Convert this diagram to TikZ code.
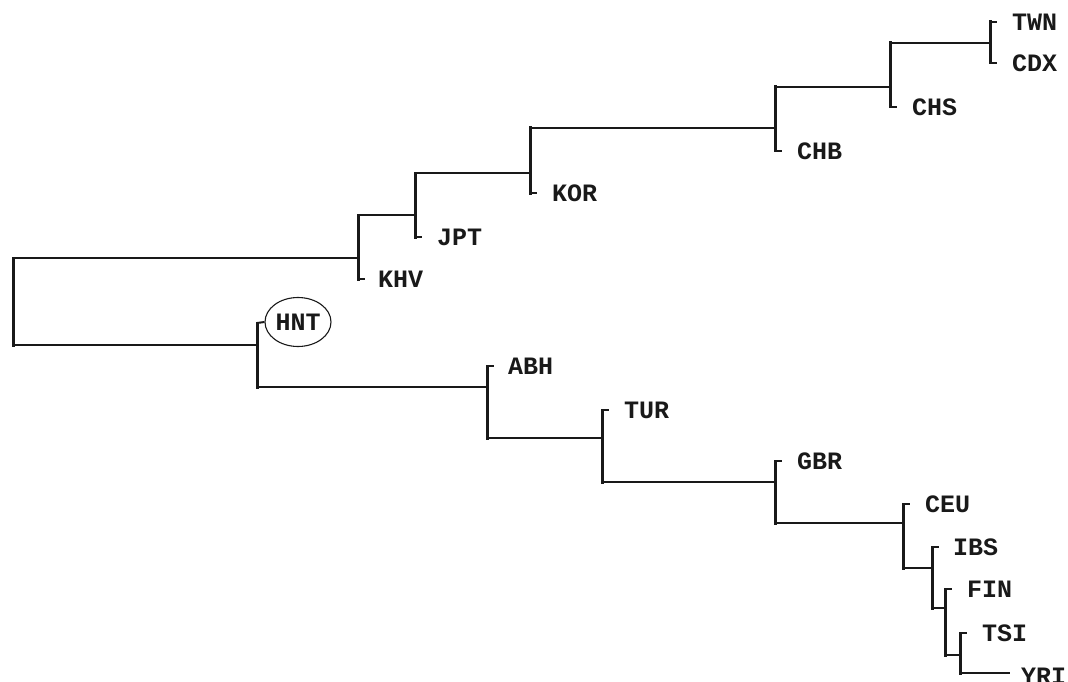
\documentclass[tikz,border=0pt]{standalone}
\usepackage{fontspec}
\setmonofont{Liberation Mono}
\usetikzlibrary{calc,shapes.geometric}
\begin{document}
\begin{tikzpicture}[x=1pt,y=-1pt,
  hline/.style={line width=2pt, draw=black!90},
  vline/.style={line width=3pt, draw=black!90, line cap=rect},
  leaf/.style={anchor=west, inner sep=0pt, text=black!90, font=\ttfamily\bfseries\fontsize{25}{25}\selectfont}]
\useasboundingbox (0,0) rectangle (1068,682);
% ---------- junction coordinates ----------
\coordinate (R1) at (13,258);  \coordinate (R2) at (13,345);
\coordinate (A0) at (358,258); \coordinate (A1) at (358,215); \coordinate (A2) at (358,279);
\coordinate (B0) at (415,215); \coordinate (B1) at (415,173); \coordinate (B2) at (415,237);
\coordinate (C0) at (530,173); \coordinate (C1) at (530,128); \coordinate (C2) at (530,193);
\coordinate (D0) at (775,128); \coordinate (D1) at (775,87);  \coordinate (D2) at (775,151);
\coordinate (E0) at (890,87);  \coordinate (E1) at (890,43);  \coordinate (E2) at (890,107);
\coordinate (F0) at (990,43);  \coordinate (F1) at (990,22);  \coordinate (F2) at (990,63);
\coordinate (G0) at (257,345); \coordinate (G1) at (257,323); \coordinate (G2) at (257,387);
\coordinate (H0) at (487,387); \coordinate (H1) at (487,366); \coordinate (H2) at (487,438);
\coordinate (I0) at (602,438); \coordinate (I1) at (602,410); \coordinate (I2) at (602,482);
\coordinate (J0) at (775,482); \coordinate (J1) at (775,461); \coordinate (J2) at (775,523);
\coordinate (K0) at (903,523); \coordinate (K1) at (903,504); \coordinate (K2) at (903,568);
\coordinate (L0) at (932,568); \coordinate (L1) at (932,547); \coordinate (L2) at (932,608);
\coordinate (M0) at (945,608); \coordinate (M1) at (945,589); \coordinate (M2) at (945,655);
\coordinate (N0) at (960,655); \coordinate (N1) at (960,633); \coordinate (N2) at (960,673);
% ---------- leaf labels ----------
\node[leaf] (TWN) at ($(F1)+(22,0)$) {TWN};
\node[leaf] (CDX) at ($(F2)+(22,0)$) {CDX};
\node[leaf] (CHS) at ($(E2)+(22,0)$) {CHS};
\node[leaf] (CHB) at ($(D2)+(22,0)$) {CHB};
\node[leaf] (KOR) at ($(C2)+(22,0)$) {KOR};
\node[leaf] (JPT) at ($(B2)+(22,0)$) {JPT};
\node[leaf] (KHV) at ($(A2)+(20,0)$) {KHV};
\node[draw=black!90, line width=1.1pt, ellipse, minimum width=66pt, minimum height=49pt, inner sep=0pt,
      font=\ttfamily\bfseries\fontsize{25}{25}\selectfont, text=black!90] (HNT) at (298,322) {HNT};
\node[leaf] (ABH) at ($(H1)+(21,0)$) {ABH};
\node[leaf] (TUR) at ($(I1)+(22,0)$) {TUR};
\node[leaf] (GBR) at ($(J1)+(22,0)$) {GBR};
\node[leaf] (CEU) at ($(K1)+(22,0)$) {CEU};
\node[leaf] (IBS) at ($(L1)+(21,0)$) {IBS};
\node[leaf] (FIN) at ($(M1)+(22,0)$) {FIN};
\node[leaf] (TSI) at ($(N1)+(22,0)$) {TSI};
\node[leaf] (YRI) at (1021,676) {YRI};
% ---------- vertical bars ----------
\foreach \n in {R,A,B,C,D,E,F,G,H,I,J,K,L,M,N}{\draw[vline] (\n1) -- (\n2);}
% ---------- horizontal branches ----------
\draw[hline] (R1) -- (A0);
\draw[hline] (R2) -- (G0);
\draw[hline] (A1) -- (B0);
\draw[hline] (B1) -- (C0);
\draw[hline] (C1) -- (D0);
\draw[hline] (D1) -- (E0);
\draw[hline] (E1) -- (F0);
\draw[hline] (G2) -- (H0);
\draw[hline] (H2) -- (I0);
\draw[hline] (I2) -- (J0);
\draw[hline] (J2) -- (K0);
\draw[hline] (K2) -- (L0);
\draw[hline] (L2) -- (M0);
\draw[hline] (M2) -- (N0);
\draw[hline] (N2) -- (1010,673);
% ---------- leaf stubs ----------
\foreach \c in {F1,F2,E2,D2,C2,B2,A2,H1,I1,J1,K1,L1,M1,N1}{\draw[hline] (\c) -- ++(7,0);}
\draw[hline] (G1) -- (HNT.west);
\end{tikzpicture}
\end{document}
